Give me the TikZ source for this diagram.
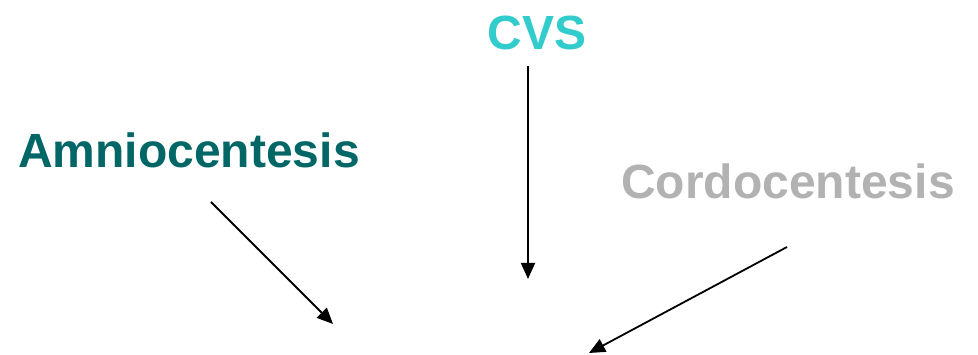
\documentclass[tikz,border=0pt]{standalone}
\usepackage{fontspec}
\setmainfont{Liberation Sans}
\usetikzlibrary{arrows.meta}
\definecolor{cvscol}{HTML}{33CCCC}
\definecolor{amniocol}{HTML}{006666}
\definecolor{cordocol}{HTML}{B2B2B2}
\begin{document}
\begin{tikzpicture}[x=1pt,y=-1pt,
  lbl/.style={inner sep=0pt,anchor=base,font=\fontsize{48}{50}\selectfont\bfseries},
  arr/.style={line width=1.8pt,-{Triangle[length=16pt,width=14pt]}}]
\useasboundingbox (0,0) rectangle (978,355);
\node[lbl,text=cvscol] (cvs) at (537,50) {CVS};
\node[lbl,text=amniocol] (amnio) at (189,168) {Amniocentesis};
\node[lbl,text=cordocol] (cordo) at (788,199) {Cordocentesis};
\coordinate (a1) at (211,202);
\coordinate (a2) at (333,324);
\coordinate (c1) at (528,66);
\coordinate (c2) at (528,279);
\coordinate (d1) at (787,247);
\coordinate (d2) at (589,353);
\draw[arr] (a1) -- (a2);
\draw[arr] (c1) -- (c2);
\draw[arr] (d1) -- (d2);
\end{tikzpicture}
\end{document}
